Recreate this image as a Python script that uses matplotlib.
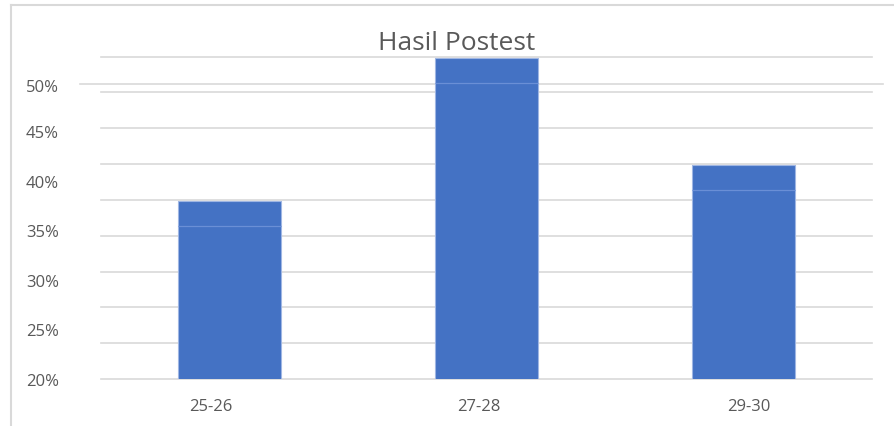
import matplotlib
matplotlib.use("Agg")
import matplotlib.pyplot as plt
import numpy as np
from matplotlib.lines import Line2D
import matplotlib.transforms as mtransforms

categories = ["25-26", "27-28", "29-30"]
values = [38.0, 52.4, 41.6]
ytick_values = [20, 25, 30, 35, 40, 45, 50]
ytick_labels = ["20%", "25%", "30%", "35%", "40%", "45%", "50%"]
title = "Hasil Postest"

plt.rcParams['font.family'] = ['Open Sans', 'DejaVu Sans']
text_color = "#595959"
grid_color = "#d9d9d9"
bar_color = "#4472C4"

fig = plt.figure(figsize=(8.95, 4.27), dpi=100)
ax = fig.add_axes([0.1125, 0.1101, 0.8615, 0.7548])

x = np.arange(len(categories))
ax.bar(x, values, width=0.4, color=bar_color, edgecolor="#9fb6e3", linewidth=0.8, zorder=3)
# faint lighter line inside each bar
for xi, v in zip(x, values):
    ax.hlines(v - 2.52, xi - 0.2, xi + 0.2, color="#6a8fd6", linewidth=0.9, zorder=4)

ax.set_xlim(-0.5, 2.5)
ax.set_ylim(20, 52.52)

ax.yaxis.remove_overlapping_locs = False
ax.set_yticks(ytick_values)
ax.set_yticklabels(ytick_labels)
ax.set_yticks(np.linspace(20, 52.52, 10), minor=True)
ax.grid(True, which="minor", axis="y", color=grid_color, linewidth=1.2, zorder=0)
ax.grid(False, which="major")
for t in ax.yaxis.get_minor_ticks():
    t.gridline.set_clip_on(False)
ax.tick_params(axis="y", which="both", length=0, pad=30, labelsize=12, labelcolor=text_color)
# the top label sits a little lower in the reference
lbl = ax.get_yticklabels()[-1]
lbl.set_transform(lbl.get_transform() + mtransforms.ScaledTranslation(0, -3.5 / 100, fig.dpi_scale_trans))

ax.set_xticks([-0.07, 0.97, 2.02])
ax.set_xticklabels(categories)
ax.tick_params(axis="x", length=0, pad=14, labelsize=12, labelcolor=text_color)

ax.axhline(49.77, xmin=-0.027, xmax=1.015, color=grid_color, linewidth=1.2, clip_on=False, zorder=0)

for s in ax.spines.values():
    s.set_visible(False)

fig.text(0.5106, 0.899, title, ha="center", va="center", fontsize=19, color=text_color)

# outer frame lines
fig.add_artist(Line2D([11/895, 1.0], [1 - 6/427, 1 - 6/427], color=grid_color, linewidth=1.5, transform=fig.transFigure))
fig.add_artist(Line2D([11/895, 11/895], [0.0, 1 - 6/427], color=grid_color, linewidth=1.5, transform=fig.transFigure))

fig.savefig("out.png", dpi=100, facecolor="white")
